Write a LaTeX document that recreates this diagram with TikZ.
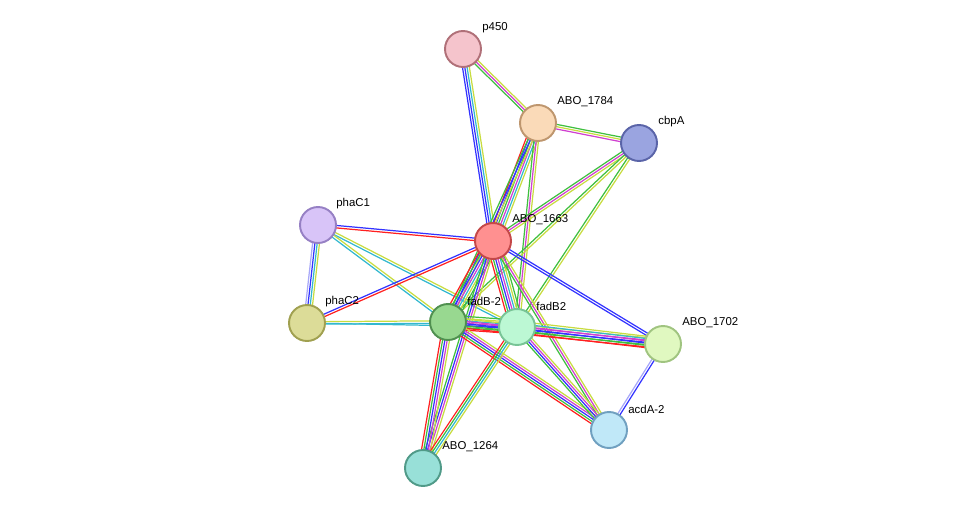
\documentclass[tikz,border=0pt]{standalone}
\usepackage{fontspec}
\setmainfont{Liberation Sans}
\usetikzlibrary{calc}

\definecolor{cNb}{HTML}{3FBF3F}
\definecolor{cFu}{HTML}{FF2020}
\definecolor{cCo}{HTML}{3333FF}
\definecolor{cDb}{HTML}{33B8D0}
\definecolor{cEx}{HTML}{D040D0}
\definecolor{cTm}{HTML}{C8DC40}
\definecolor{cHo}{HTML}{A8A8F8}

\tikzset{
  prot/.style={circle, draw, line width=1.1pt, minimum size=0.72cm, inner sep=0pt},
  lbl/.style={font=\fontsize{6.5}{7}\selectfont, inner sep=0pt, anchor=south west},
  evid/.style={line width=0.7pt}
}

% one evidence line per colour, shifted sideways by an offset in pt
\newcommand{\evidence}[3]{%
  \foreach \col/\off in {#3} {
    \draw[evid, \col] ($(#1)!\off pt!90:(#2)$) -- ($(#2)!\off pt!-90:(#1)$);
  }%
}

\begin{document}
\begin{tikzpicture}[x=0.02cm, y=-0.02cm]
\useasboundingbox (0,0) rectangle (975,514);

% Proteins
\coordinate (p450) at (463,49);
\coordinate (abo1784) at (538,123);
\coordinate (cbpA) at (639,143);
\coordinate (phaC1) at (318,225);
\coordinate (abo1663) at (493,241);
\coordinate (phaC2) at (307,323);
\coordinate (fadBa) at (448,322);
\coordinate (fadBb) at (517,327);
\coordinate (abo1702) at (663,344);
\coordinate (acdA) at (609,430);
\coordinate (abo1264) at (423,468);

% Evidence
\evidence{p450}{abo1784}{cNb/-1.3, cEx/0, cTm/1.3}
\evidence{p450}{abo1663}{cCo/-1.9, cCo/-0.6, cDb/0.7, cTm/2.0}
\evidence{abo1784}{cbpA}{cEx/-1.3, cTm/0, cNb/1.3}
\evidence{abo1784}{abo1663}{cFu/-3.2, cCo/-1.9, cNb/-0.6, cEx/0.7, cDb/2.0, cTm/3.3}
\evidence{abo1784}{fadBb}{cNb/-1.3, cEx/0, cTm/1.3}
\evidence{abo1784}{fadBa}{cNb/-1.3, cCo/0, cTm/1.3}
\evidence{cbpA}{abo1663}{cNb/-1.3, cEx/0, cTm/1.3}
\evidence{cbpA}{fadBb}{cNb/-0.7, cTm/0.7}
\evidence{cbpA}{fadBa}{cNb/-0.7, cTm/0.7}
\evidence{phaC1}{abo1663}{cFu/-0.7, cCo/0.7}
\evidence{phaC1}{phaC2}{cHo/-1.9, cCo/-0.6, cDb/0.7, cTm/2.0}
\evidence{phaC1}{fadBb}{cDb/-0.7, cTm/0.7}
\evidence{phaC1}{fadBa}{cDb/-0.7, cTm/0.7}
\evidence{phaC2}{abo1663}{cFu/-0.7, cCo/0.7}
\evidence{phaC2}{fadBa}{cDb/-0.7, cTm/0.7}
\evidence{phaC2}{fadBb}{cDb/0}
\evidence{abo1663}{fadBa}{cFu/-3.9, cNb/-2.6, cCo/-1.3, cEx/0, cDb/1.3, cTm/2.6, cNb/3.9}
\evidence{abo1663}{fadBb}{cFu/-3.9, cNb/-2.6, cCo/-1.3, cEx/0, cDb/1.3, cTm/2.6, cNb/3.9}
\evidence{abo1663}{abo1702}{cCo/-0.7, cCo/0.7}
\evidence{abo1663}{acdA}{cNb/-1.3, cEx/0, cTm/1.3}
\evidence{abo1663}{abo1264}{cNb/-1.9, cCo/-0.6, cEx/0.7, cTm/2.0}
\evidence{fadBa}{fadBb}{cFu/-3.9, cNb/-2.6, cCo/-1.3, cEx/0, cDb/1.3, cTm/2.6, cNb/3.9}
\evidence{fadBa}{abo1702}{cFu/-2.6, cNb/-1.3, cCo/0, cEx/1.3, cTm/2.6}
\evidence{fadBb}{abo1702}{cFu/-3.2, cNb/-1.9, cCo/-0.6, cEx/0.7, cDb/2.0, cTm/3.3}
\evidence{fadBa}{acdA}{cFu/-2.6, cNb/-1.3, cCo/0, cEx/1.3, cTm/2.6}
\evidence{fadBb}{acdA}{cNb/-1.9, cCo/-0.6, cEx/0.7, cTm/2.0}
\evidence{fadBa}{abo1264}{cFu/-2.6, cNb/-1.3, cCo/0, cEx/1.3, cTm/2.6}
\evidence{fadBb}{abo1264}{cFu/-1.9, cNb/-0.6, cDb/0.7, cTm/2.0}
\evidence{abo1702}{acdA}{cHo/-0.7, cCo/0.7}

% Nodes
\node[prot, fill={rgb,255:red,245;green,196;blue,204}, draw={rgb,255:red,176;green,112;blue,120}] (n-p450) at (p450) {};
\node[prot, fill={rgb,255:red,250;green,218;blue,184}, draw={rgb,255:red,190;green,150;blue,110}] (n-abo1784) at (abo1784) {};
\node[prot, fill={rgb,255:red,154;green,164;blue,224}, draw={rgb,255:red,90;green,100;blue,168}] (n-cbpA) at (cbpA) {};
\node[prot, fill={rgb,255:red,216;green,196;blue,248}, draw={rgb,255:red,150;green,128;blue,196}] (n-phaC1) at (phaC1) {};
\node[prot, fill={rgb,255:red,255;green,144;blue,144}, draw={rgb,255:red,196;green,72;blue,72}] (n-abo1663) at (abo1663) {};
\node[prot, fill={rgb,255:red,220;green,220;blue,152}, draw={rgb,255:red,160;green,160;blue,80}] (n-phaC2) at (phaC2) {};
\node[prot, fill={rgb,255:red,152;green,216;blue,144}, draw={rgb,255:red,80;green,144;blue,80}] (n-fadBa) at (fadBa) {};
\node[prot, fill={rgb,255:red,188;green,248;blue,212}, draw={rgb,255:red,120;green,196;blue,150}] (n-fadBb) at (fadBb) {};
\node[prot, fill={rgb,255:red,224;green,248;blue,192}, draw={rgb,255:red,160;green,196;blue,128}] (n-abo1702) at (abo1702) {};
\node[prot, fill={rgb,255:red,192;green,232;blue,248}, draw={rgb,255:red,112;green,160;blue,192}] (n-acdA) at (acdA) {};
\node[prot, fill={rgb,255:red,152;green,224;blue,216}, draw={rgb,255:red,80;green,154;blue,136}] (n-abo1264) at (abo1264) {};

% Labels
\node[lbl] at (482,33) {p450};
\node[lbl] at (557,107) {ABO\_1784};
\node[lbl] at (658,127) {cbpA};
\node[lbl] at (336,209) {phaC1};
\node[lbl] at (512,225) {ABO\_1663};
\node[lbl] at (325,307) {phaC2};
\node[lbl] at (467,306) {fadB-2};
\node[lbl] at (536,311) {fadB2};
\node[lbl] at (682,328) {ABO\_1702};
\node[lbl] at (628,414) {acdA-2};
\node[lbl] at (442,452) {ABO\_1264};
\end{tikzpicture}
\end{document}
